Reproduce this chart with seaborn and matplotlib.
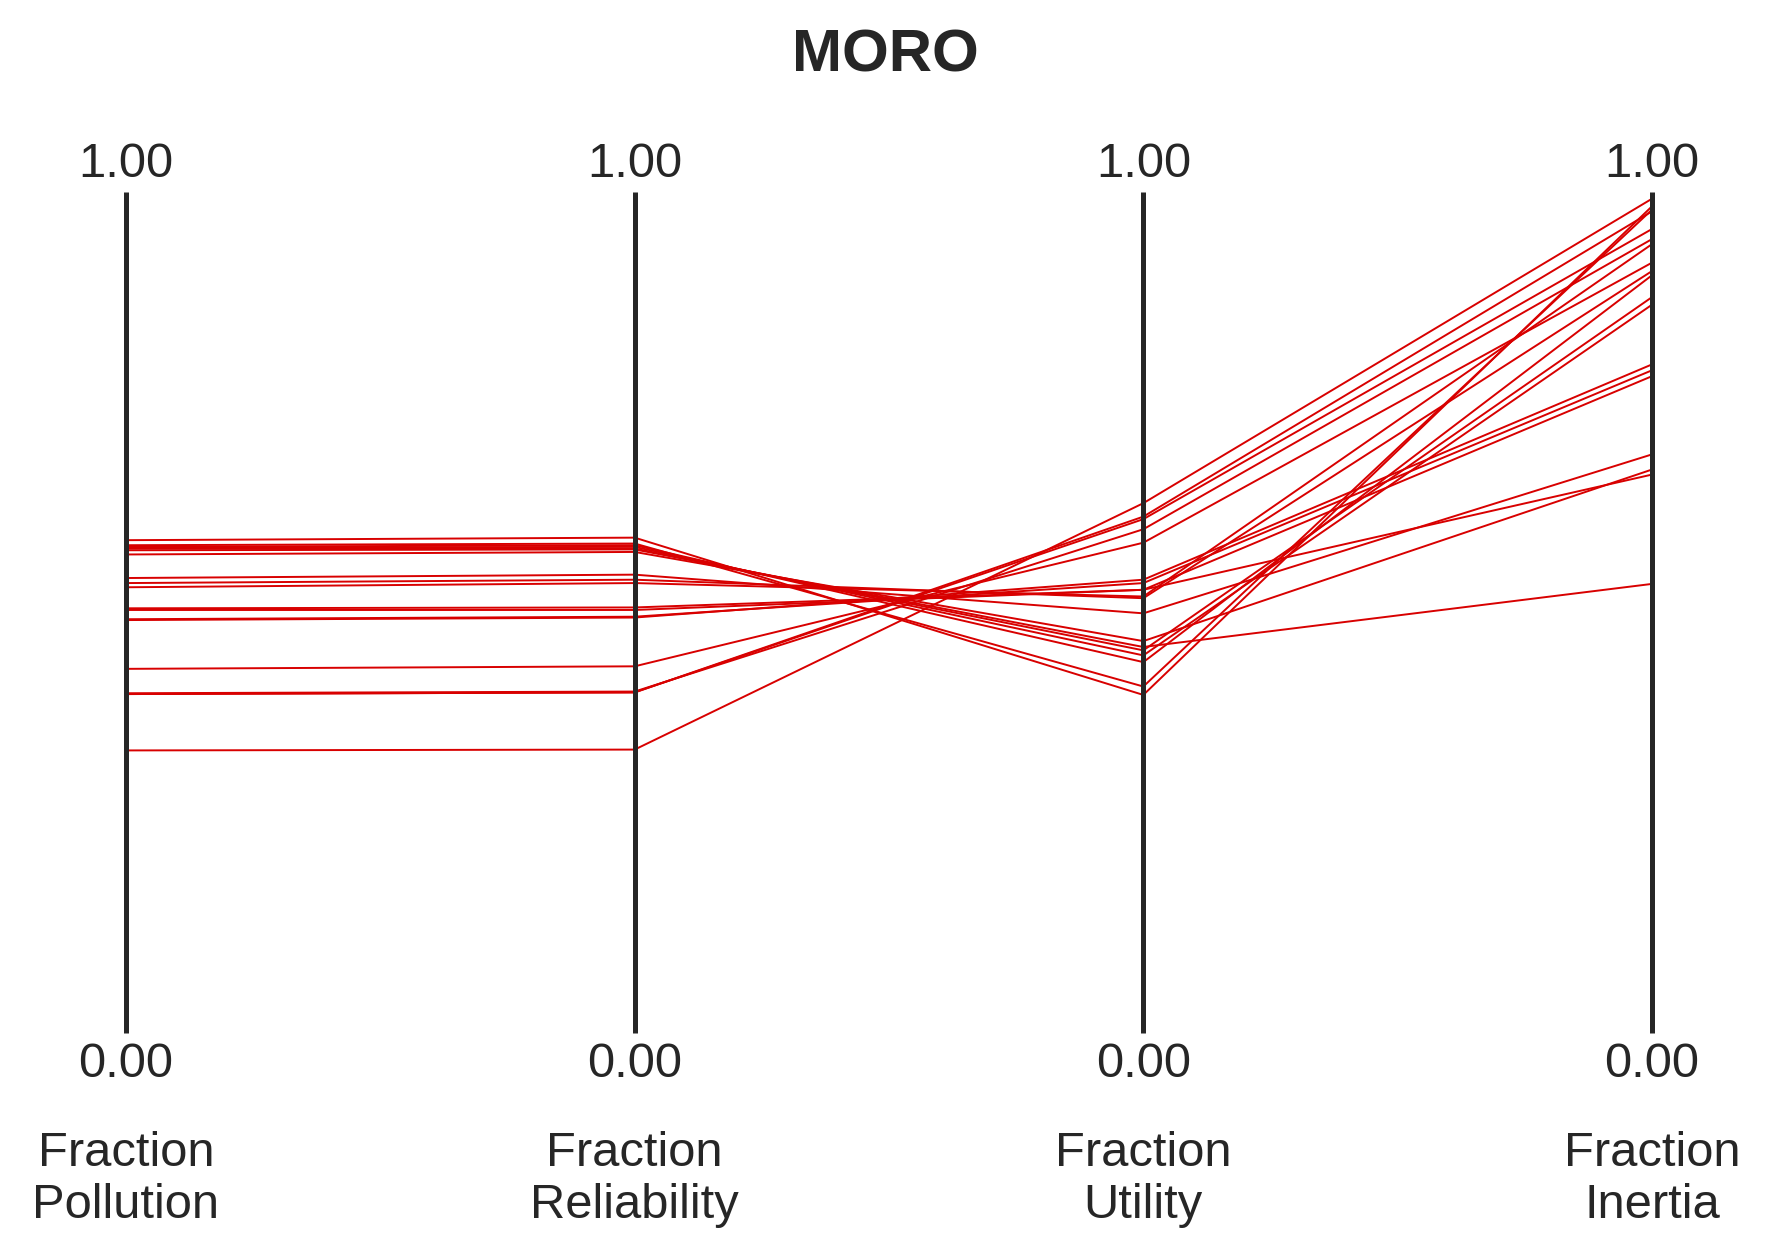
import numpy as np
import pandas as pd
import matplotlib
matplotlib.use('Agg')
import matplotlib.pyplot as plt
import seaborn as sns

# outcome names shown under each axis
outcomes = ['Fraction\nPollution', 'Fraction\nReliability', 'Fraction\nUtility', 'Fraction\nInertia']

# normalised values (0..1) of each MORO solution
pollution = [0.336, 0.403, 0.403, 0.404, 0.433, 0.491, 0.492, 0.503, 0.505, 0.530,
             0.535, 0.541, 0.569, 0.574, 0.576, 0.577, 0.578, 0.580, 0.586]
reliability = [0.337, 0.405, 0.405, 0.406, 0.436, 0.494, 0.495, 0.503, 0.506, 0.535,
               0.539, 0.545, 0.572, 0.575, 0.576, 0.578, 0.580, 0.582, 0.589]
utility = [0.630, 0.614, 0.611, 0.599, 0.583, 0.539, 0.535, 0.527, 0.527, 0.519,
           0.517, 0.499, 0.466, 0.459, 0.455, 0.449, 0.441, 0.412, 0.402]
inertia = [0.992, 0.977, 0.956, 0.944, 0.916, 0.795, 0.788, 0.781, 0.664, 0.938,
           0.906, 0.688, 0.670, 0.534, 0.875, 0.866, 0.901, 0.979, 0.983]

limits_low = ['0.00', '0.00', '0.00', '0.00']
limits_high = ['1.00', '1.00', '1.00', '1.00']

sns.set_style('white')
plt.rcParams['font.family'] = ['Liberation Sans', 'DejaVu Sans']
text_color = '#262626'

# long form table for seaborn
rows = []
for i, vals in enumerate(zip(pollution, reliability, utility, inertia)):
    for j, v in enumerate(vals):
        rows.append({'solution': i, 'axis': j, 'value': v})
df = pd.DataFrame(rows)

fig = plt.figure(figsize=(8.85, 6.295), dpi=200)
ax = fig.add_axes([126 / 1770, 1 - 1033 / 1259, (1652 - 126) / 1770, (1033 - 192) / 1259])

sns.lineplot(data=df, x='axis', y='value', units='solution', estimator=None,
             color='#d80000', lw=0.7, legend=False, ax=ax)

ax.set_xlim(0, len(outcomes) - 1)
ax.set_ylim(0, 1)
ax.set_axis_off()

# vertical axes
ax.vlines(range(len(outcomes)), 0, 1, colors=text_color, lw=1.8, clip_on=False, zorder=3)

for j, name in enumerate(outcomes):
    ax.annotate(limits_high[j], (j, 1), xytext=(0, 5.4), textcoords='offset points',
                ha='center', va='baseline', fontsize=17.6, color=text_color)
    ax.annotate(limits_low[j], (j, 0), xytext=(0, -15.8), textcoords='offset points',
                ha='center', va='baseline', fontsize=17.6, color=text_color)
    ax.annotate(name, (j, 0), xytext=(0, -35.3), textcoords='offset points',
                ha='center', va='top', fontsize=17.6, color=text_color, linespacing=1.2)

fig.text(0.5, 1 - 72 / 1259, 'MORO', ha='center', va='baseline',
         fontsize=21.6, fontweight='bold', color=text_color)

fig.savefig('out.png', dpi=200)
